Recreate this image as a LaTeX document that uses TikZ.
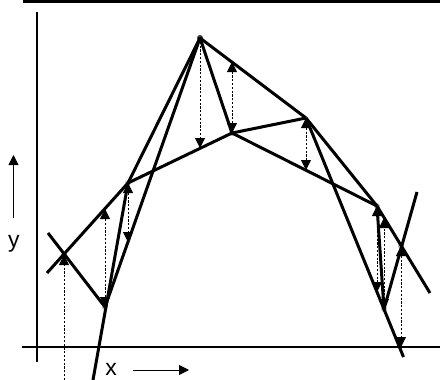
\documentclass[tikz,border=0pt]{standalone}
\usepackage{fontspec}
\setmainfont{Liberation Sans}
\usetikzlibrary{arrows.meta}

\begin{document}
\begin{tikzpicture}[x=1pt,y=-1pt,
  >={Triangle[width=10pt,length=10pt]},
  curve/.style={line width=3pt},
  probe/.style={dash pattern=on 2.2pt off 1.6pt, line width=0.8pt},
  axis/.style={line width=1.5pt},
  lbl/.style={font=\fontsize{23}{27}\selectfont, inner sep=0pt, anchor=base}]
\useasboundingbox (0,0) rectangle (440,380);
% frame edge and axes
\fill (23,0) rectangle (440,2.7);
\coordinate (ytop) at (37,12);
\coordinate (ybot) at (37,362);
\coordinate (xl) at (22,347);
\coordinate (xr) at (440,347);
\draw[axis] (ytop) -- (ybot);
\draw[axis] (xl) -- (xr);
% iterates
\coordinate (A) at (64,255);
\coordinate (B) at (105,307);
\coordinate (C) at (128,183);
\coordinate (D) at (200,38);
\coordinate (E) at (232,133);
\coordinate (F) at (306,118);
\coordinate (G) at (377,206);
\coordinate (H) at (384,309);
\coordinate (I) at (401,246);
% free ends of the secants
\coordinate (a1) at (47,273);
\coordinate (a2) at (48,233);
\coordinate (b1) at (93,380);
\coordinate (f1) at (403.5,357);
\coordinate (g1) at (430,293);
\coordinate (h1) at (417,192);
\foreach \p in {A,B,C,E,G,H,I}
  \fill[gray!55] (\p) circle (3pt);
\fill[black!80] (D) circle (3pt);
% secants
\draw[curve] (a1) -- (C);
\draw[curve] (a2) -- (B);
\draw[curve] (b1) -- (C);
\draw[curve] (B) -- (D);
\draw[curve] (C) -- (D);
\draw[curve] (C) -- (E);
\draw[curve] (D) -- (E);
\draw[curve] (D) -- (F);
\draw[curve] (E) -- (F);
\draw[curve] (E) -- (G);
\draw[curve] (F) -- (G);
\draw[curve] (F) -- (f1);
\draw[curve] (G) -- (g1);
\draw[curve] (G) -- (H);
\draw[curve] (H) -- (h1);
% vertical probes
\coordinate (A0) at (64,380);
\coordinate (B1) at (105,209);
\coordinate (C1) at (128,242);
\coordinate (D1) at (200,148);
\coordinate (E1) at (232,62);
\coordinate (F1) at (306,170);
\coordinate (G1) at (377,292);
\coordinate (H1) at (384,218);
\coordinate (I1) at (401,347);
\draw[probe,->] (A0) -- (A);
\draw[probe,<->] (B) -- (B1);
\draw[probe,<->] (C) -- (C1);
\draw[probe,->] (D) -- (D1);
\draw[probe,<->] (E) -- (E1);
\draw[probe,<->] (F) -- (F1);
\draw[probe,<->] (G) -- (G1);
\draw[probe,<->] (H) -- (H1);
\draw[probe,<->] (I) -- (I1);
% axis labels
\node[lbl] (ylab) at (14,247) {y};
\node[lbl] (xlab) at (111,375) {x};
\coordinate (yarr0) at (13.5,218);
\coordinate (yarr1) at (13.5,155);
\coordinate (xarr0) at (133,370);
\coordinate (xarr1) at (189,370);
\draw[line width=0.9pt,->] (yarr0) -- (yarr1);
\draw[line width=0.9pt,->] (xarr0) -- (xarr1);
\end{tikzpicture}
\end{document}
